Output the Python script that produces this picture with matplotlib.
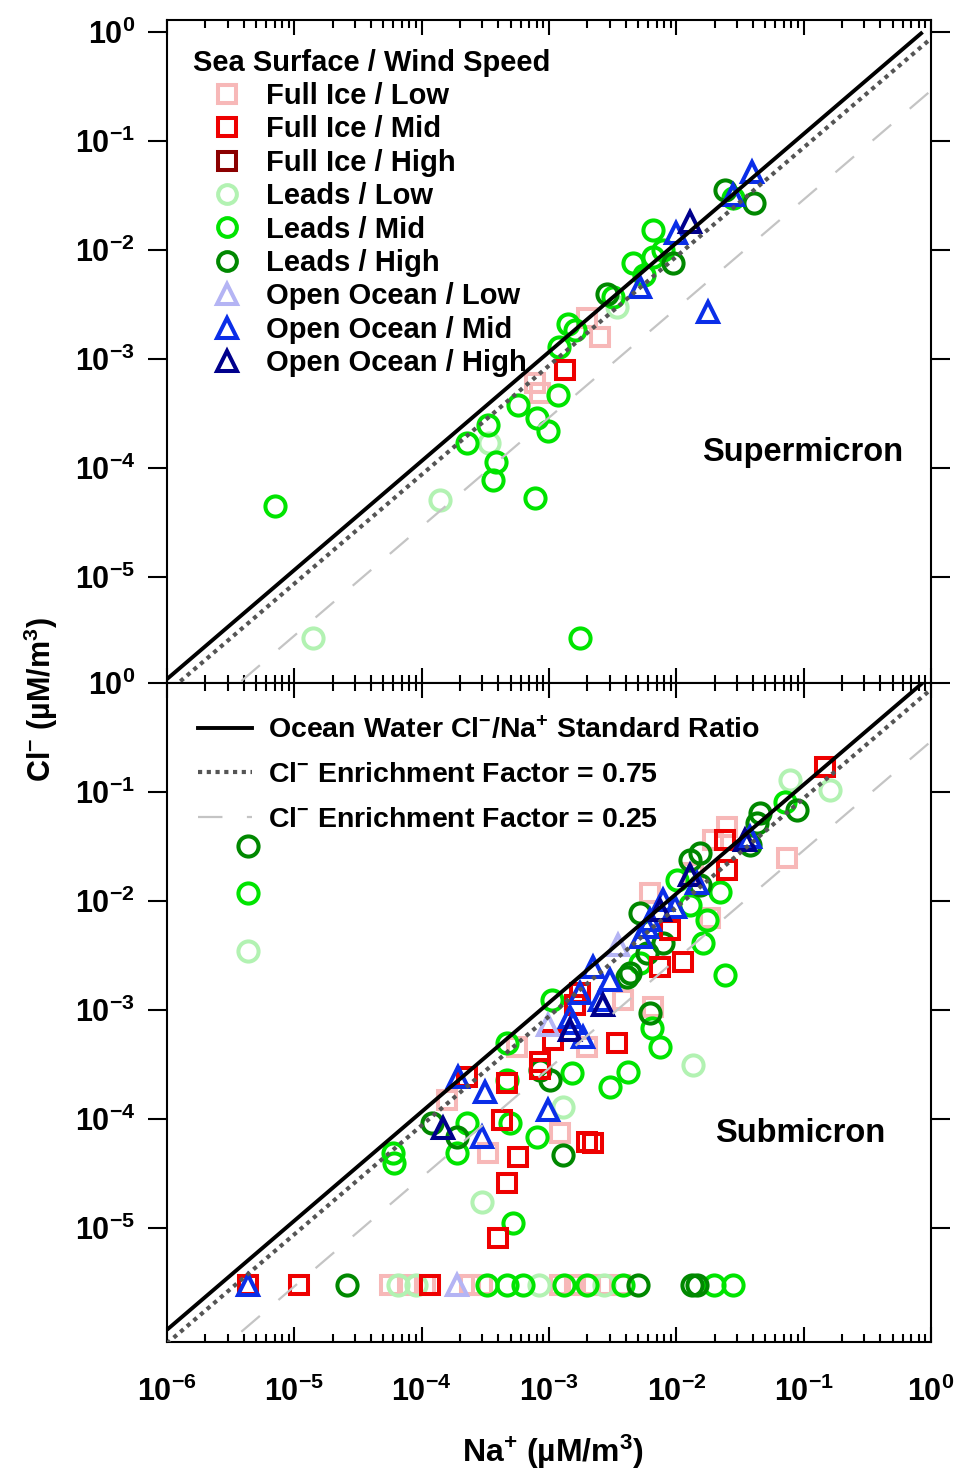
import numpy as np
import matplotlib
matplotlib.use('Agg')
from matplotlib import pyplot as plt
from matplotlib.lines import Line2D
from matplotlib.ticker import NullLocator, NullFormatter

plt.rcParams['font.family'] = ['Liberation Sans', 'DejaVu Sans']
plt.rcParams['font.weight'] = 'bold'
plt.rcParams['mathtext.fontset'] = 'custom'
plt.rcParams['mathtext.rm'] = 'Liberation Sans:bold'
plt.rcParams['mathtext.it'] = 'Liberation Sans:bold'
plt.rcParams['mathtext.bf'] = 'Liberation Sans:bold'

# seawater Cl-/Na+ molar ratio and enrichment factors
OCEAN_RATIO = 1.165
EF_HIGH = 0.75
EF_LOW = 0.25

# ---------------- supermicron (top panel) ----------------
sup_ice_low_na = [2.0e-3, 2.5e-3, 7.7e-4, 8.5e-4]
sup_ice_low_cl = [2.4e-3, 1.6e-3, 6.0e-4, 4.9e-4]
sup_ice_mid_na = [1.33e-3]
sup_ice_mid_cl = [7.9e-4]
sup_ice_high_na = []
sup_ice_high_cl = []
sup_leads_low_na = [1.39e-4, 1.4e-5, 3.4e-4, 3.4e-3]
sup_leads_low_cl = [5.1e-5, 2.8e-6, 1.7e-4, 3.0e-3]
sup_leads_mid_na = [7.0e-6, 2.26e-4, 3.3e-4, 3.8e-4, 3.6e-4, 7.7e-4, 5.7e-4, 8.0e-4, 9.8e-4,
                    1.17e-3, 1.75e-3, 1.2e-3, 1.4e-3, 1.6e-3, 3.2e-3, 4.6e-3, 6.5e-3, 6.5e-3,
                    7.8e-3, 5.6e-3, 2.8e-2]
sup_leads_mid_cl = [4.5e-5, 1.7e-4, 2.5e-4, 1.13e-4, 7.8e-5, 5.3e-5, 3.8e-4, 2.9e-4, 2.2e-4,
                    4.7e-4, 2.8e-6, 1.3e-3, 2.1e-3, 1.85e-3, 3.7e-3, 7.6e-3, 1.52e-2, 8.7e-3,
                    1.0e-2, 5.9e-3, 3.0e-2]
sup_leads_high_na = [2.85e-3, 9.4e-3, 2.4e-2, 4.1e-2]
sup_leads_high_cl = [4.0e-3, 7.6e-3, 3.55e-2, 2.7e-2]
sup_ocean_low_na = []
sup_ocean_low_cl = []
sup_ocean_mid_na = [3.9e-2, 2.8e-2, 1.0e-2, 5.2e-3, 1.76e-2]
sup_ocean_mid_cl = [5.2e-2, 3.2e-2, 1.43e-2, 4.6e-3, 2.7e-3]
sup_ocean_high_na = [1.27e-2]
sup_ocean_high_cl = [1.8e-2]

# ---------------- submicron (bottom panel) ----------------
# points at 3e-6 Cl- are below detection
sub_ice_low_na = [0.0249, 0.0193, 0.0736, 0.0135, 6.2e-3, 0.0183, 3.8e-3, 6.5e-3, 1.58e-4,
                  3.3e-4, 1.22e-3, 5.6e-4, 2.0e-3,
                  5.6e-5, 8.1e-5, 1.06e-4, 2.4e-4, 2.97e-4, 1.22e-3, 1.6e-3, 2.1e-3, 2.7e-3, 3.6e-3]
sub_ice_low_cl = [0.0477, 0.036, 0.0248, 0.018, 0.0118, 7.0e-3, 1.24e-3, 1.07e-3, 1.5e-4,
                  4.9e-5, 7.4e-5, 4.6e-4, 4.6e-4,
                  3e-6, 3e-6, 3e-6, 3e-6, 3e-6, 3e-6, 3e-6, 3e-6, 3e-6, 3e-6]
sub_ice_mid_na = [0.146, 0.024, 0.0249, 8.9e-3, 0.0112, 7.4e-3, 1.75e-3, 3.4e-3, 8.5e-4,
                  2.26e-4, 4.7e-4, 4.3e-4, 5.7e-4, 4.7e-4, 4.0e-4, 2.0e-3, 2.2e-3, 8.5e-4,
                  1.07e-3, 1.6e-3,
                  4.3e-6, 1.09e-5, 1.16e-4]
sub_ice_mid_cl = [0.17, 0.036, 0.0192, 5.4e-3, 2.75e-3, 2.48e-3, 1.43e-3, 5.0e-4, 3.3e-4,
                  2.43e-4, 2.14e-4, 9.8e-5, 4.5e-5, 2.6e-5, 8.1e-6, 6.1e-5, 6.0e-5, 2.9e-4,
                  5.3e-4, 1.11e-3,
                  3e-6, 3e-6, 3e-6]
sub_ice_high_na = []
sub_ice_high_cl = []
sub_leads_low_na = [0.0776, 0.16, 2.97e-4, 0.0135, 1.28e-3, 4.3e-6,
                    6.5e-5, 9.0e-5, 8.3e-4, 2.7e-3]
sub_leads_low_cl = [0.129, 0.104, 1.73e-5, 3.1e-4, 1.29e-4, 3.5e-3,
                    3e-6, 3e-6, 3e-6, 3e-6]
sub_leads_mid_na = [4.3e-6, 0.071, 0.0173, 0.0161, 0.024, 7.4e-3, 6.4e-3, 4.2e-3, 3.0e-3,
                    1.51e-3, 1.05e-3, 4.7e-4, 4.7e-4, 4.9e-4, 8.0e-4, 2.26e-4, 1.89e-4,
                    5.9e-5, 6.1e-5, 5.2e-4, 5.2e-3, 0.0127, 0.0101, 0.0219,
                    3.25e-4, 4.7e-4, 6.3e-4, 1.3e-3, 2.0e-3, 3.8e-3, 1.97e-2, 2.8e-2]
sub_leads_mid_cl = [1.18e-2, 0.081, 6.7e-3, 4.1e-3, 2.1e-3, 4.6e-4, 6.8e-4, 2.7e-4, 1.97e-4,
                    2.64e-4, 1.24e-3, 5.0e-4, 2.28e-4, 9.2e-5, 6.8e-5, 9.2e-5, 4.9e-5,
                    4.9e-5, 3.95e-5, 1.11e-5, 2.7e-3, 9.2e-3, 0.0156, 0.0121,
                    3e-6, 3e-6, 3e-6, 3e-6, 3e-6, 3e-6, 3e-6, 3e-6]
sub_leads_high_na = [4.3e-6, 0.088, 0.045, 0.0428, 0.0377, 4.1e-3, 6.2e-3, 7.8e-3, 8.5e-4,
                     1.01e-3, 1.2e-4, 1.89e-4, 1.28e-3, 0.0153, 0.0127, 0.0153, 5.2e-3,
                     5.9e-3, 4.3e-3,
                     2.6e-5, 5.0e-3, 1.32e-2, 1.45e-2]
sub_leads_high_cl = [3.2e-2, 0.068, 0.064, 0.052, 0.0327, 2.0e-3, 9.4e-4, 4.1e-3, 2.8e-4,
                     2.28e-4, 9.2e-5, 6.8e-5, 4.7e-5, 0.014, 0.0238, 0.0275, 7.8e-3,
                     3.3e-3, 2.2e-3,
                     3e-6, 3e-6, 3e-6, 3e-6]
sub_ocean_low_na = [3.47e-3, 9.8e-4, 1.89e-4]
sub_ocean_low_cl = [3.95e-3, 7.3e-4, 3e-6]
sub_ocean_mid_na = [1.92e-4, 3.13e-4, 2.97e-4, 9.8e-4, 1.54e-3, 1.84e-3, 1.46e-3, 2.2e-3,
                    2.5e-3, 1.75e-3, 5.3e-3, 6.2e-3, 9.7e-3, 0.0145, 0.0377, 7.8e-3,
                    5.9e-3, 3.0e-3, 4.3e-6]
sub_ocean_mid_cl = [2.43e-4, 1.77e-4, 6.8e-5, 1.21e-4, 7.6e-4, 5.65e-4, 8.6e-4, 2.48e-3,
                    1.24e-3, 1.43e-3, 4.7e-3, 6.7e-3, 8.8e-3, 0.0146, 0.0387, 0.0102,
                    5.8e-3, 1.88e-3, 3e-6]
sub_ocean_high_na = [1.47e-4, 1.46e-3, 2.64e-3, 7.4e-3, 0.0127, 0.0344]
sub_ocean_high_cl = [8.3e-5, 6.6e-4, 1.11e-3, 8.3e-3, 0.0173, 0.036]

# label, marker, colour
GROUPS = [
    ('Full Ice / Low', 's', '#f7b8b8'),
    ('Full Ice / Mid', 's', '#ee0000'),
    ('Full Ice / High', 's', '#8b0000'),
    ('Leads / Low', 'o', '#b2f2b2'),
    ('Leads / Mid', 'o', '#00e400'),
    ('Leads / High', 'o', '#008800'),
    ('Open Ocean / Low', '^', '#b4b4f4'),
    ('Open Ocean / Mid', '^', '#0a2ee8'),
    ('Open Ocean / High', '^', '#00008c'),
]
MS = {'s': 13.5, 'o': 14.5, '^': 15}

sup_data = [(sup_ice_low_na, sup_ice_low_cl), (sup_ice_mid_na, sup_ice_mid_cl),
            (sup_ice_high_na, sup_ice_high_cl), (sup_leads_low_na, sup_leads_low_cl),
            (sup_leads_mid_na, sup_leads_mid_cl), (sup_leads_high_na, sup_leads_high_cl),
            (sup_ocean_low_na, sup_ocean_low_cl), (sup_ocean_mid_na, sup_ocean_mid_cl),
            (sup_ocean_high_na, sup_ocean_high_cl)]
sub_data = [(sub_ice_low_na, sub_ice_low_cl), (sub_ice_mid_na, sub_ice_mid_cl),
            (sub_ice_high_na, sub_ice_high_cl), (sub_leads_low_na, sub_leads_low_cl),
            (sub_leads_mid_na, sub_leads_mid_cl), (sub_leads_high_na, sub_leads_high_cl),
            (sub_ocean_low_na, sub_ocean_low_cl), (sub_ocean_mid_na, sub_ocean_mid_cl),
            (sub_ocean_high_na, sub_ocean_high_cl)]
# draw pale first, then green, red, blue on top
DRAW_ORDER = [0, 3, 4, 5, 2, 1, 6, 7, 8]

fig = plt.figure(figsize=(9.61, 14.75), dpi=100)
ax1 = fig.add_axes([0.1738, 0.5369, 0.795, 0.4495])
ax2 = fig.add_axes([0.1738, 0.0902, 0.795, 0.4468])

na_full = np.array([1e-6, 1.0])
na_std = np.array([1e-6, 1.0 / OCEAN_RATIO])

xt = [1e-6, 1e-5, 1e-4, 1e-3, 1e-2, 1e-1, 1e0]
yt = [1e0, 1e-1, 1e-2, 1e-3, 1e-4, 1e-5]

for ax, data in [(ax1, sup_data), (ax2, sub_data)]:
    ax.set_xscale('log')
    ax.set_yscale('log')
    for i in DRAW_ORDER:
        label, mk, col = GROUPS[i]
        na, cl = data[i]
        if len(na) == 0:
            continue
        ax.plot(na, cl, ls='none', marker=mk, ms=MS[mk], mfc='none', mec=col, mew=2.9, zorder=2)
    ax.plot(na_std, OCEAN_RATIO * na_std, color='black', lw=2.8, zorder=3,
            solid_capstyle='butt')
    ax.plot(na_full, EF_HIGH * OCEAN_RATIO * na_full, color='#555555', lw=3,
            ls=(0, (1, 1.1)), zorder=3)
    ax.plot(na_full, EF_LOW * OCEAN_RATIO * na_full, color='#c4c4c4', lw=1.6,
            ls=(0, (11, 11)), zorder=3)
    ax.set_xlim(1e-6, 1)
    ax.set_xticks(xt)
    ax.set_yticks(yt, [r'$10^{%d}$' % int(np.log10(v)) for v in yt])
    ax.yaxis.set_minor_locator(NullLocator())
    ax.xaxis.set_minor_formatter(NullFormatter())
    ax.tick_params(axis='x', which='both', direction='in', top=True, bottom=True, width=1.5)
    ax.tick_params(axis='x', which='major', length=11)
    ax.tick_params(axis='x', which='minor', length=6)
    ax.tick_params(axis='y', which='major', direction='out', left=True, right=True,
                   length=14, width=1.5, labelsize=22, pad=9)
    for sp in ax.spines.values():
        sp.set_linewidth(1.5)

ax1.set_ylim(1.07e-6, 1.29)
ax2.set_ylim(9.0e-7, 1.0)
ax1.set_xticklabels([])
ax2.set_xticklabels([r'$10^{%d}$' % int(np.log10(v)) for v in xt])
ax2.tick_params(axis='x', which='major', labelsize=22, pad=25)

ax1.text(0.832, 0.348, 'Supermicron', transform=ax1.transAxes, fontsize=23.5,
         fontweight='bold', ha='center', va='center')
ax2.text(0.829, 0.317, 'Submicron', transform=ax2.transAxes, fontsize=23.5,
         fontweight='bold', ha='center', va='center')

# marker legend
mk_handles = [Line2D([], [], ls='none', marker=mk, ms=MS[mk] - 1, mfc='none', mec=col, mew=2.9)
              for _, mk, col in GROUPS]
ax1.legend(mk_handles, [g[0] for g in GROUPS], loc='upper left',
           bbox_to_anchor=(0.034, 0.957), frameon=False,
           title='Sea Surface / Wind Speed', alignment='left',
           prop={'weight': 'bold', 'size': 21},
           title_fontproperties={'weight': 'bold', 'size': 21},
           handlelength=2.3, handletextpad=0.2, labelspacing=0.185,
           borderaxespad=0, borderpad=0)

# ratio line legend
ln_handles = [Line2D([], [], color='black', lw=2.8),
              Line2D([], [], color='#555555', lw=3, ls=(0, (1, 1.1))),
              Line2D([], [], color='#c4c4c4', lw=1.6, ls=(0, (11, 11)))]
ln_labels = [r'Ocean Water Cl$^{-}$/Na$^{+}$ Standard Ratio',
             r'Cl$^{-}$ Enrichment Factor = 0.75',
             r'Cl$^{-}$ Enrichment Factor = 0.25']
ax2.legend(ln_handles, ln_labels, loc='upper left', bbox_to_anchor=(0.041, 0.95),
           frameon=False, prop={'weight': 'bold', 'size': 20.5},
           handlelength=1.9, handletextpad=0.55, labelspacing=0.64,
           borderaxespad=0, borderpad=0)

fig.text(0.042, 1 - 700 / 1475, r'Cl$^{-}$ (µM/m$^{3}$)', rotation=90, fontsize=22,
         fontweight='bold', ha='center', va='center')
fig.text(553 / 961, 1 - 1452 / 1475, r'Na$^{+}$ (µM/m$^{3}$)', fontsize=23,
         fontweight='bold', ha='center', va='center')

fig.savefig('out.png', dpi=100)
